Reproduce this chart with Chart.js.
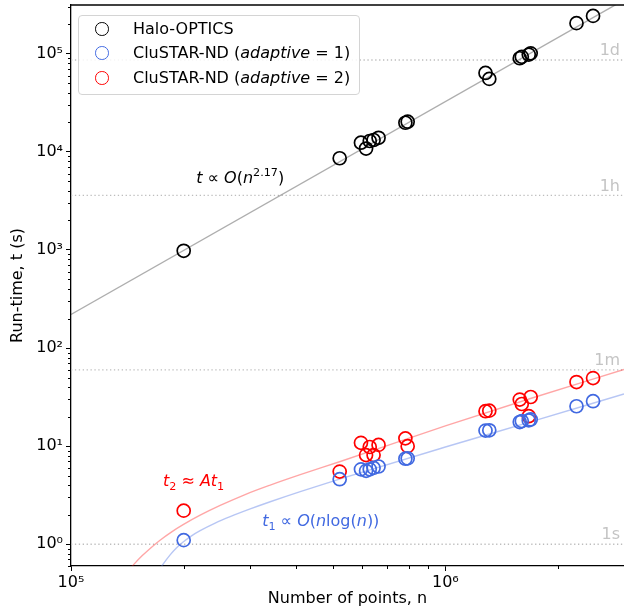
<!DOCTYPE html>
<html><head><meta charset="utf-8">
<script src="https://cdn.jsdelivr.net/npm/chart.js@4"></script>
<style>
html,body{margin:0;padding:0;background:#fff;}
#wrap{position:relative;width:624px;height:610px;overflow:hidden;}
canvas{display:block;}
#legend{position:absolute;left:78px;top:15px;width:282px;height:80px;border:1px solid #d4d4d4;border-radius:4px;background:rgba(255,255,255,0.85);font-family:"DejaVu Sans",sans-serif;font-size:16px;color:#000;box-sizing:border-box;}
.row{position:absolute;left:0;height:20px;line-height:20px;white-space:nowrap;}
.mk{position:absolute;left:16px;top:2px;width:11.5px;height:11.5px;border-radius:50%;border:1.7px solid;}
.tx{position:absolute;left:54px;top:-1px;}
</style></head>
<body>
<div id="wrap">
<canvas id="c" width="624" height="610"></canvas>
<div id="legend">
 <div class="row" style="top:4px"><span class="mk" style="border-color:#000"></span><span class="tx">Halo-OPTICS</span></div>
 <div class="row" style="top:28px"><span class="mk" style="border-color:#4169e1"></span><span class="tx">CluSTAR-ND (<i>adaptive</i> = 1)</span></div>
 <div class="row" style="top:53px"><span class="mk" style="border-color:#ff0000"></span><span class="tx">CluSTAR-ND (<i>adaptive</i> = 2)</span></div>
</div>
</div>
<script>
// ---- data ----
const nPoints = [2.0e5, 5.22e5, 5.95e5, 6.14e5, 6.28e5, 6.43e5, 6.63e5, 7.82e5, 7.93e5, 1.28e6, 1.31e6, 1.58e6, 1.60e6, 1.67e6, 1.69e6, 2.24e6, 2.48e6];
const haloTime = [980, 8600, 12400, 10800, 12900, 13200, 13900, 19800, 20300, 63700, 55400, 90000, 93000, 98000, 101000, 205000, 243000];
const adaptive1Time = [1.10, 4.6, 5.8, 5.6, 5.8, 6.0, 6.2, 7.45, 7.5, 14.4, 14.5, 17.6, 18.0, 18.3, 18.7, 25.5, 28.7];
const adaptive2Time = [2.2, 5.5, 10.8, 8.1, 9.8, 8.1, 10.3, 12.0, 10.0, 22.7, 23.0, 29.8, 26.9, 20.2, 31.7, 45, 49.4];

const haloFitN = [1e5, 3e6];
const haloFitT = [220, 353000];
const fit1N = [1.729e5, 1.762e5, 1.840e5, 1.909e5, 1.993e5, 2.094e5, 2.213e5, 2.427e5, 2.662e5, 3.011e5, 3.405e5, 4.096e5, 5.239e5, 1.0e6, 1.688e6, 3.0e6];
const fit1T = [0.563, 0.627, 0.779, 0.909, 1.053, 1.211, 1.374, 1.641, 1.910, 2.291, 2.711, 3.440, 4.638, 9.79, 17.68, 34.0];
const fit2N = [1.447e5, 1.474e5, 1.548e5, 1.627e5, 1.729e5, 1.862e5, 1.993e5, 2.213e5, 2.503e5, 2.918e5, 3.405e5, 4.096e5, 5.239e5, 1.0e6, 1.688e6, 3.0e6];
const fit2T = [0.578, 0.627, 0.761, 0.906, 1.098, 1.344, 1.582, 1.975, 2.484, 3.211, 4.009, 5.123, 6.97, 16.07, 30.6, 60.4];

const timeMarks = [1, 60, 3600, 86400];
const timeMarkLabels = ['1s', '1m', '1h', '1d'];
const xTickValues = [1e5, 1e6];
const xTickLabels = ['10⁵', '10⁶'];
const yTickValues = [1, 10, 100, 1000, 1e4, 1e5];
const yTickLabels = ['10⁰', '10¹', '10²', '10³', '10⁴', '10⁵'];
const xRange = [1e5, 3.0e6];
const yRange = [0.64, 3.14e5];

// ---- chart ----
const pts = (xs, ys) => xs.map((x, i) => ({x: x, y: ys[i]}));
const FONT = '"DejaVu Sans", sans-serif';

const datasets = [];
const scatterStyle = {showLine: false, pointRadius: 6.5, pointHoverRadius: 6.5, pointBorderWidth: 1.7, backgroundColor: 'rgba(0,0,0,0)', pointBackgroundColor: 'rgba(0,0,0,0)', order: 0};
datasets.push(Object.assign({label: 'Halo-OPTICS', data: pts(nPoints, haloTime), borderColor: '#000', pointBorderColor: '#000'}, scatterStyle));
datasets.push(Object.assign({label: 'CluSTAR-ND (adaptive = 1)', data: pts(nPoints, adaptive1Time), borderColor: '#4169e1', pointBorderColor: '#4169e1'}, scatterStyle));
datasets.push(Object.assign({label: 'CluSTAR-ND (adaptive = 2)', data: pts(nPoints, adaptive2Time), borderColor: '#ff0000', pointBorderColor: '#ff0000'}, scatterStyle));
const fitStyle = {showLine: true, pointRadius: 0, pointHoverRadius: 0, borderWidth: 1.4, cubicInterpolationMode: 'monotone', order: 1};
datasets.push(Object.assign({label: 'fit halo', data: pts(haloFitN, haloFitT), borderColor: 'rgba(0,0,0,0.32)'}, fitStyle));
datasets.push(Object.assign({label: 'fit 1', data: pts(fit1N, fit1T), borderColor: 'rgba(65,105,225,0.38)'}, fitStyle));
datasets.push(Object.assign({label: 'fit 2', data: pts(fit2N, fit2T), borderColor: 'rgba(255,0,0,0.35)'}, fitStyle));
timeMarks.forEach((t, i) => {
  datasets.push({label: timeMarkLabels[i], data: [{x: xRange[0], y: t}, {x: xRange[1], y: t}], showLine: true, pointRadius: 0, pointHoverRadius: 0,
    borderColor: '#bdbdbd', borderWidth: 1.3, borderDash: [1.3, 2.6], order: 2});
});

function drawRich(ctx, x, y, segs, color, size) {
  ctx.fillStyle = color;
  ctx.textBaseline = 'alphabetic';
  ctx.textAlign = 'left';
  let cx = x;
  segs.forEach(s => {
    const sz = (s.sup || s.sub) ? size * 0.7 : size;
    ctx.font = (s.it ? 'italic ' : '') + sz + 'px ' + FONT;
    const dy = s.sup ? -size * 0.42 : (s.sub ? size * 0.22 : 0);
    ctx.fillText(s.t, cx, y + dy);
    cx += ctx.measureText(s.t).width;
  });
}

const decor = {
  id: 'decor',
  afterDatasetsDraw(chart) {
    const {ctx, chartArea: a, scales: {x, y}} = chart;
    ctx.save();
    ctx.font = '16px ' + FONT;
    ctx.fillStyle = '#c4c4c4';
    ctx.textAlign = 'right';
    ctx.textBaseline = 'bottom';
    timeMarks.forEach((t, i) => {
      ctx.fillText(timeMarkLabels[i], a.right - 4, y.getPixelForValue(t) - 1);
    });
    drawRich(ctx, x.getPixelForValue(2.16e5), y.getPixelForValue(4800),
      [{t: 't', it: true}, {t: ' ∝ '}, {t: 'O', it: true}, {t: '('}, {t: 'n', it: true}, {t: '2.17', sup: true}, {t: ')'}], '#000', 16);
    drawRich(ctx, x.getPixelForValue(1.76e5), y.getPixelForValue(3.88),
      [{t: 't', it: true}, {t: '2', sub: true}, {t: ' ≈ '}, {t: 'At', it: true}, {t: '1', sub: true}], '#ff0000', 16);
    drawRich(ctx, x.getPixelForValue(3.24e5), y.getPixelForValue(1.52),
      [{t: 't', it: true}, {t: '1', sub: true}, {t: ' ∝ '}, {t: 'O', it: true}, {t: '('}, {t: 'n', it: true}, {t: 'log('}, {t: 'n', it: true}, {t: '))'}], '#4169e1', 16);
    ctx.restore();
  },
  afterDraw(chart) {
    const {ctx, chartArea: a, scales: {x, y}} = chart;
    ctx.save();
    ctx.strokeStyle = '#000';
    ctx.lineWidth = 1;
    ctx.beginPath();
    for (let e = -1; e <= 6; e++) {
      for (let k = 2; k <= 9; k++) {
        const v = k * Math.pow(10, e);
        if (v > x.min && v < x.max) {
          const px = Math.round(x.getPixelForValue(v)) + 0.5;
          ctx.moveTo(px, a.bottom); ctx.lineTo(px, a.bottom + 3);
        }
        if (v > y.min && v < y.max) {
          const py = Math.round(y.getPixelForValue(v)) + 0.5;
          ctx.moveTo(a.left, py); ctx.lineTo(a.left - 3, py);
        }
      }
    }
    ctx.stroke();
    ctx.lineWidth = 1.3;
    ctx.beginPath();
    ctx.moveTo(a.left, a.top); ctx.lineTo(a.right, a.top);
    ctx.stroke();
    ctx.restore();
  }
};

function noPad(s) { s.paddingTop = 0; s.paddingBottom = 0; s.paddingLeft = 0; s.paddingRight = 0; }

new Chart(document.getElementById('c'), {
  type: 'scatter',
  data: {datasets: datasets},
  plugins: [decor],
  options: {
    responsive: false,
    animation: false,
    devicePixelRatio: 1,
    layout: {autoPadding: false, padding: {top: 5, right: 0, left: 0, bottom: 0}},
    plugins: {legend: {display: false}, tooltip: {enabled: false}},
    scales: {
      x: {
        type: 'logarithmic', min: xRange[0], max: xRange[1],
        afterBuildTicks: s => { s.ticks = xTickValues.map(v => ({value: v})); },
        afterFit: s => { s.height = 44; noPad(s); },
        ticks: {autoSkip: false, maxRotation: 0, padding: 2, color: '#000', font: {family: FONT, size: 16},
          callback: (v) => { const i = xTickValues.indexOf(v); return i >= 0 ? xTickLabels[i] : ''; }},
        grid: {display: true, drawOnChartArea: false, drawTicks: true, tickLength: 5, tickColor: '#000', tickWidth: 1},
        border: {display: true, color: '#000', width: 1.3},
        title: {display: true, text: 'Number of points, n', color: '#000', font: {family: FONT, size: 16}, padding: {top: 0, bottom: 2}}
      },
      y: {
        type: 'logarithmic', min: yRange[0], max: yRange[1],
        afterBuildTicks: s => { s.ticks = yTickValues.map(v => ({value: v})); },
        afterFit: s => { s.width = 71; noPad(s); },
        ticks: {autoSkip: false, padding: 3, color: '#000', font: {family: FONT, size: 16},
          callback: (v) => { const i = yTickValues.indexOf(v); return i >= 0 ? yTickLabels[i] : ''; }},
        grid: {display: true, drawOnChartArea: false, drawTicks: true, tickLength: 5, tickColor: '#000', tickWidth: 1},
        border: {display: true, color: '#000', width: 1.3},
        title: {display: true, text: 'Run-time, t (s)', color: '#000', font: {family: FONT, size: 16}, padding: {top: 8, bottom: 0}}
      }
    }
  }
});
</script>
</body></html>
